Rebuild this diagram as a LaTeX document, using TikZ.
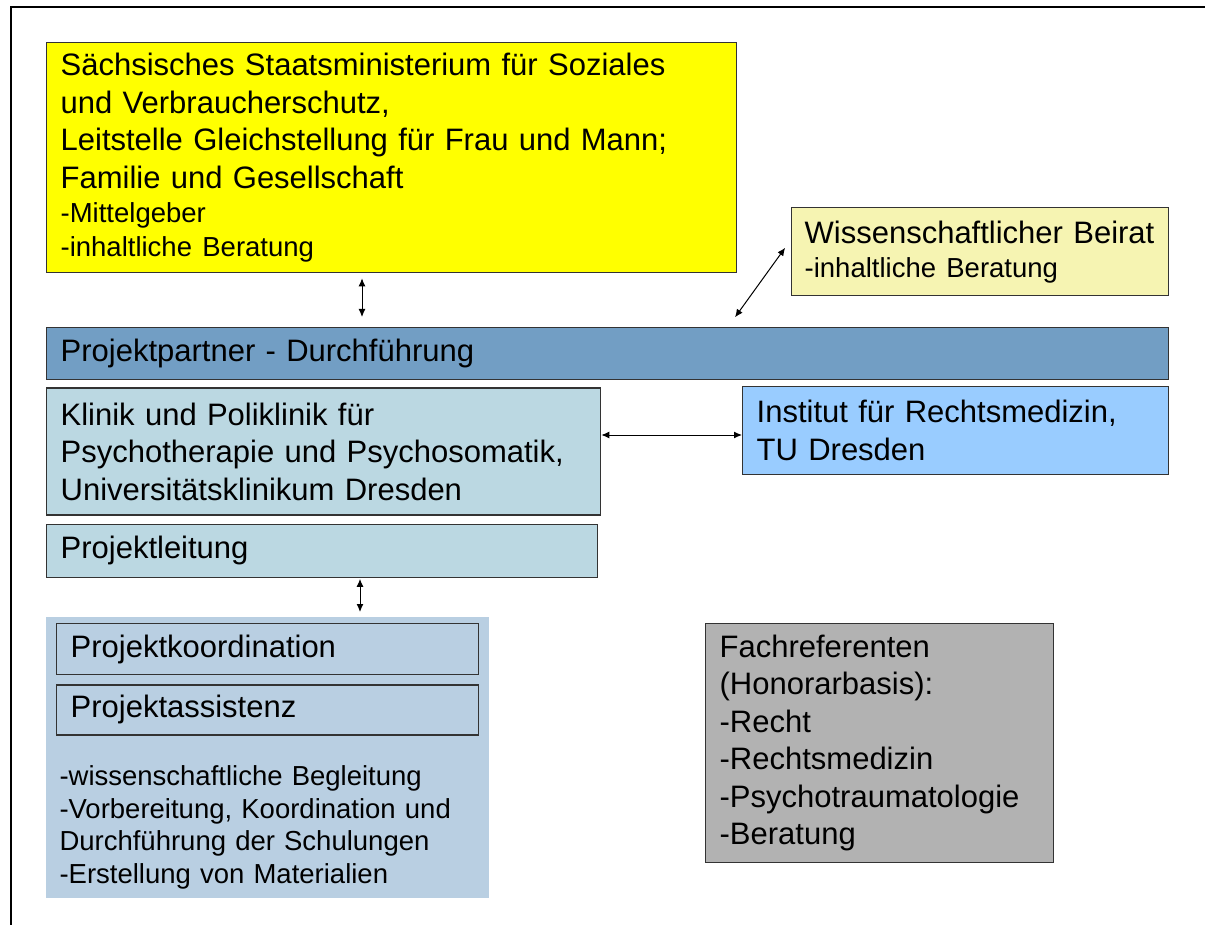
\documentclass[tikz,border=0pt]{standalone}
\usepackage{fontspec}
\setmainfont{Liberation Sans}
\usetikzlibrary{arrows.meta,positioning}

\definecolor{gelb}{RGB}{255,255,0}
\definecolor{hellgelb}{RGB}{246,244,178}
\definecolor{balken}{RGB}{114,158,196}
\definecolor{hellblau}{RGB}{187,216,226}
\definecolor{institut}{RGB}{153,204,255}
\definecolor{feld}{RGB}{185,207,226}
\definecolor{grau}{RGB}{178,178,178}
\newcommand\klein{\fontsize{27.5}{33}\selectfont}

\begin{document}
\begin{tikzpicture}[x=1pt,y=-1pt,<->,>={Latex[length=8pt,width=7pt]},
                    line width=1pt]
  \tikzstyle{box}=[draw=black!80,line width=1.3pt,anchor=north west,inner xsep=14pt,
                   inner ysep=0pt,align=left,font=\fontsize{31}{37.5}\selectfont]
  \tikzstyle{liste}=[font=\fontsize{27.5}{32.7}\selectfont,anchor=north west,
                   inner sep=0pt,align=left]

  \useasboundingbox (0,0) rectangle (1205,925);
  \draw[-,line width=2pt] (11,925) -- (11,7) -- (1205,7);

  \node[box,fill=gelb,text width=662pt,minimum height=230pt] (M) at (46,42)
       {Sächsisches Staatsministerium für Soziales\\
        und Verbraucherschutz,\\
        Leitstelle Gleichstellung für Frau und Mann;\\
        Familie und Gesellschaft\\[-3.5pt]
        {\klein -Mittelgeber}\\[-3.5pt]
        {\klein -inhaltliche Beratung}};
  \node[box,fill=hellgelb,inner xsep=13pt,text width=351pt,minimum height=88pt] (W) at (791,207)
       {Wissenschaftlicher Beirat\\[-3.5pt]{\klein -inhaltliche Beratung}};
  \node[box,fill=balken,text width=1094pt,minimum height=52pt] (P) at (46,327)
       {Projektpartner - Durchführung};
  \node[box,fill=hellblau,text width=526pt,minimum height=127pt,
        below=7pt of P.south west,anchor=north west] (K)
       {Klinik und Poliklinik für\\Psychotherapie und Psychosomatik,\\Universitätsklinikum Dresden};
  \node[box,fill=institut,text width=398pt,minimum height=88pt] (I) at (742,386)
       {Institut für Rechtsmedizin,\\TU Dresden};
  \node[box,fill=hellblau,text width=523pt,minimum height=53pt,
        below=8pt of K.south west,anchor=north west] (L) {Projektleitung};
  \node[fill=feld,minimum width=443pt,minimum height=281pt,anchor=north west,
        inner sep=0pt] (B) at (45,616) {};
  \node[box,text width=394pt,minimum height=51pt] (C) at (56,623) {Projektkoordination};
  \node[box,text width=394pt,minimum height=50pt,
        below=9pt of C.south west,anchor=north west] (A) {Projektassistenz};
  \node[liste,text width=420pt] (T) at (59,765)
       {-wissenschaftliche Begleitung\\-Vorbereitung, Koordination und\\
        Durchführung der Schulungen\\-Erstellung von Materialien};
  \node[box,fill=grau,text width=320pt,minimum height=239pt] (F) at (705,623)
       {Fachreferenten\\(Honorarbasis):\\-Recht\\-Rechtsmedizin\\-Psychotraumatologie\\-Beratung};

  \path (362,0 |- M.south) edge[shorten <=5pt,shorten >=10pt] (362,0 |- P.north)
        ([yshift=12pt]W.west) edge[shorten <=10pt,shorten >=12pt] (728,0 |- P.north)
        (K.east |- 0,435) edge (I.west |- 0,435)
        (360,0 |- L.south) edge[shorten <=1pt,shorten >=4pt] (360,0 |- B.north);
\end{tikzpicture}
\end{document}
